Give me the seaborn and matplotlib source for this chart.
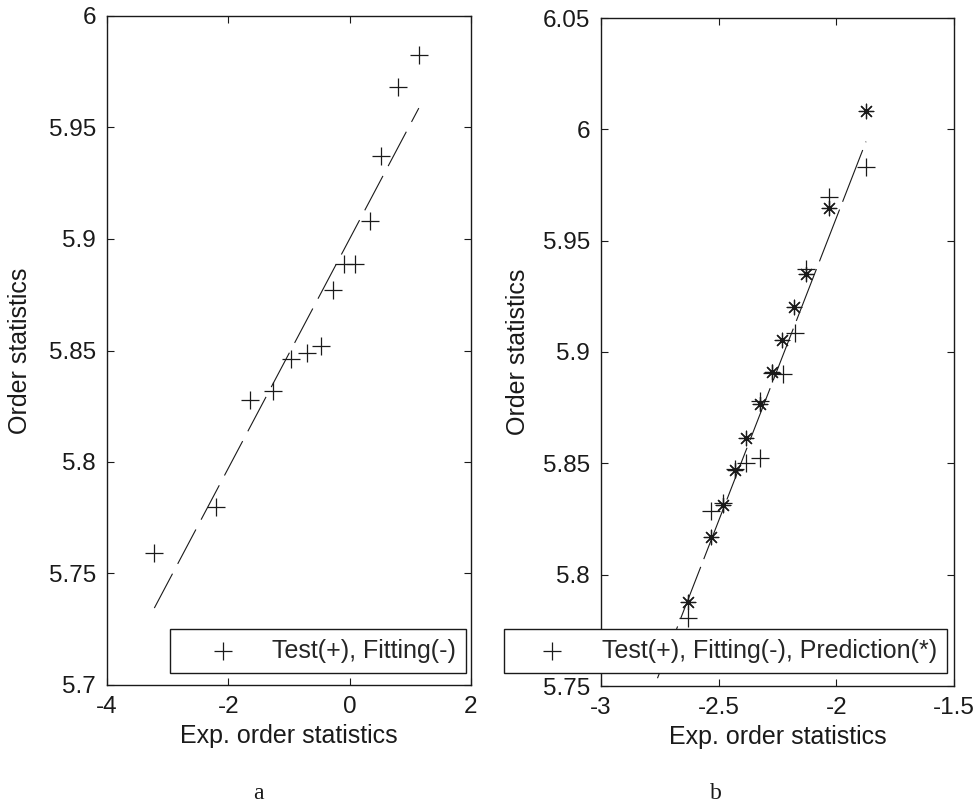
import matplotlib
matplotlib.use("Agg")
import matplotlib.pyplot as plt
import matplotlib.ticker as mticker
import seaborn as sns

# ---------------- data ----------------
# panel a
a_test_x = [-3.23, -2.20, -1.65, -1.26, -0.96, -0.71, -0.47, -0.27, -0.09, 0.09, 0.34, 0.52, 0.79, 1.14]
a_test_y = [5.759, 5.780, 5.828, 5.832, 5.846, 5.849, 5.852, 5.877, 5.889, 5.889, 5.908, 5.937, 5.968, 5.9825]
a_fit_x = [-3.22, 1.14]
a_fit_y = [5.7345, 5.9587]
a_xticks = [-4, -2, 0, 2]
a_xticklabels = ["-4", "-2", "0", "2"]
a_yticks = [5.7, 5.75, 5.8, 5.85, 5.9, 5.95, 6.0]
a_yticklabels = ["5.7", "5.75", "5.8", "5.85", "5.9", "5.95", "6"]

# panel b
b_test_x = [-2.632, -2.531, -2.482, -2.431, -2.384, -2.326, -2.326, -2.274, -2.225, -2.176, -2.129, -2.031, -1.874]
b_test_y = [5.7804, 5.8286, 5.8324, 5.8474, 5.8500, 5.8522, 5.8779, 5.8907, 5.8902, 5.9086, 5.9373, 5.9694, 5.9833]
b_pred_x = [-2.632, -2.531, -2.482, -2.431, -2.384, -2.326, -2.274, -2.229, -2.180, -2.129, -2.031, -1.874]
b_pred_y = [5.7878, 5.8167, 5.8313, 5.8469, 5.8612, 5.8765, 5.8909, 5.9053, 5.9203, 5.9352, 5.9647, 6.0084]
b_fit_x = [-2.76, -1.874]
b_fit_y = [5.7535, 5.9945]
b_xticks = [-3, -2.5, -2, -1.5]
b_xticklabels = ["-3", "-2.5", "-2", "-1.5"]
b_yticks = [5.75, 5.8, 5.85, 5.9, 5.95, 6.0, 6.05]
b_yticklabels = ["5.75", "5.8", "5.85", "5.9", "5.95", "6", "6.05"]

legend_a = "Test(+), Fitting(-)"
legend_b = "Test(+), Fitting(-), Prediction(*)"
xlabel = "Exp. order statistics"
ylabel = "Order statistics"

# ---------------- style ----------------
sns.set_theme(style="white")
plt.rcParams["font.family"] = ["Liberation Sans", "DejaVu Sans"]
plt.rcParams["lines.scale_dashes"] = False
FS = 18
TFS = 17.5

fig = plt.figure(figsize=(9.75, 8.05), dpi=100)
W, H = 975.0, 805.0
axA = fig.add_axes([107 / W, 1 - 685 / H, (471 - 107) / W, (685 - 16) / H])
axB = fig.add_axes([601 / W, 1 - 686 / H, (954 - 601) / W, (686 - 18) / H])


def style_axes(ax, xlim, ylim, xt, xtl, yt, ytl, ylab_x):
    ax.set_xlim(*xlim)
    ax.set_ylim(*ylim)
    ax.xaxis.set_major_locator(mticker.FixedLocator(xt))
    ax.xaxis.set_major_formatter(mticker.FixedFormatter(xtl))
    ax.yaxis.set_major_locator(mticker.FixedLocator(yt))
    ax.yaxis.set_major_formatter(mticker.FixedFormatter(ytl))
    ax.tick_params(direction="in", length=5, width=0.8, color="k",
                   top=True, right=True, bottom=True, left=True,
                   labelsize=TFS, pad=8, labelcolor="k")
    for s in ax.spines.values():
        s.set_visible(True)
        s.set_color("k")
        s.set_linewidth(1.0)
    ax.set_xlabel(xlabel, fontsize=FS, color="k", labelpad=4)
    ax.set_ylabel(ylabel, fontsize=FS, color="k")
    ax.yaxis.set_label_coords(ylab_x, 0.5)
    ax.grid(False)


# ---- panel a ----
sns.lineplot(x=a_fit_x, y=a_fit_y, ax=axA, color="k", linewidth=0.8,
             linestyle=(0, (28, 8)), sort=False)
sns.scatterplot(x=a_test_x, y=a_test_y, ax=axA, marker="+", s=160,
                color="k", linewidth=0.9, zorder=3)
hA = axA.collections[-1]
style_axes(axA, (-4, 2), (5.7, 6.0), a_xticks, a_xticklabels,
           a_yticks, a_yticklabels, -0.205)
legA = axA.legend(handles=[hA], labels=[legend_a], loc="lower right",
                  bbox_to_anchor=(466 / W, 1 - 673 / H), bbox_transform=fig.transFigure,
                  borderaxespad=0, fontsize=FS, frameon=True, fancybox=False,
                  edgecolor="k", framealpha=1, borderpad=0.4, handlelength=3.5,
                  handletextpad=0.2, scatterpoints=1)
legA.get_frame().set_linewidth(1.0)

# ---- panel b ----
sns.lineplot(x=b_fit_x, y=b_fit_y, ax=axB, color="k", linewidth=0.8,
             linestyle=(0, (40, 6)), sort=False)
sns.scatterplot(x=b_test_x, y=b_test_y, ax=axB, marker="+", s=160,
                color="k", linewidth=0.9, zorder=3)
hB = axB.collections[-1]
sns.scatterplot(x=b_pred_x, y=b_pred_y, ax=axB, marker=(8, 2, 0), s=110,
                color="k", linewidth=0.9, zorder=3)
style_axes(axB, (-3, -1.5), (5.75, 6.05), b_xticks, b_xticklabels,
           b_yticks, b_yticklabels, -0.2)
legB = axB.legend(handles=[hB], labels=[legend_b], loc="lower right",
                  bbox_to_anchor=(947 / W, 1 - 673 / H), bbox_transform=fig.transFigure,
                  borderaxespad=0, fontsize=FS, frameon=True, fancybox=False,
                  edgecolor="k", framealpha=1, borderpad=0.4, handlelength=3.0,
                  handletextpad=0.5, scatterpoints=1)
legB.get_frame().set_linewidth(1.0)

# panel letters
fig.text(258 / W, 1 - 793 / H, "a", ha="center", va="center",
         fontsize=17, family=["Liberation Serif", "DejaVu Serif"], color="k")
fig.text(716 / W, 1 - 793 / H, "b", ha="center", va="center",
         fontsize=17, family=["Liberation Serif", "DejaVu Serif"], color="k")

fig.savefig("out.png", dpi=100, facecolor="white")
